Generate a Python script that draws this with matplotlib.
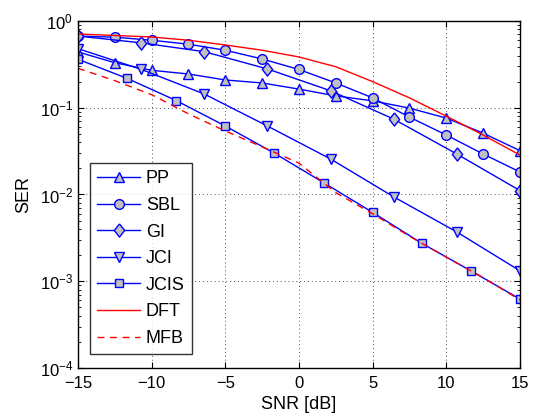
import matplotlib
matplotlib.use("Agg")
import matplotlib.pyplot as plt
import numpy as np
from matplotlib.ticker import LogLocator, NullFormatter, FixedLocator

plt.rcParams['font.family'] = ['Liberation Sans', 'DejaVu Sans']
plt.rcParams['mathtext.fontset'] = 'custom'
plt.rcParams['mathtext.rm'] = 'Liberation Sans'
plt.rcParams['mathtext.it'] = 'Liberation Sans:italic'

# Data
snr_pp = [-15, -12.5, -10, -7.5, -5, -2.5, 0, 2.5, 5, 7.5, 10, 12.5, 15]
ser_pp = [0.44, 0.33, 0.27, 0.245, 0.209, 0.193, 0.164, 0.137, 0.12, 0.099, 0.076, 0.051, 0.032]

snr_sbl = [-15, -12.5, -10, -7.5, -5, -2.5, 0, 2.5, 5, 7.5, 10, 12.5, 15]
ser_sbl = [0.67, 0.65, 0.60, 0.54, 0.46, 0.365, 0.276, 0.193, 0.13, 0.078, 0.0485, 0.0293, 0.0182]

snr_gi = [-15, -10.714, -6.429, -2.143, 2.143, 6.429, 10.714, 15]
ser_gi = [0.67, 0.56, 0.443, 0.28, 0.157, 0.074, 0.0293, 0.0111]

snr_jci = [-15, -10.714, -6.429, -2.143, 2.143, 6.429, 10.714, 15]
ser_jci = [0.48, 0.277, 0.144, 0.0616, 0.0257, 0.0094, 0.0037, 0.00132]

snr_jcis = [-15, -11.667, -8.333, -5, -1.667, 1.667, 5, 8.333, 11.667, 15]
ser_jcis = [0.362, 0.218, 0.121, 0.0616, 0.0299, 0.0137, 0.00623, 0.00274, 0.00132, 0.000624]

snr_dft = [-15, -12.5, -10, -7.5, -5, -2.5, 0, 2.5, 5, 7.5, 10, 12.5, 15]
ser_dft = [0.708, 0.68, 0.654, 0.60, 0.529, 0.46, 0.385, 0.297, 0.20, 0.13, 0.080, 0.0485, 0.0285]

snr_mfb = [-15, -12.5, -10, -7.5, -5, -2.5, 0, 2.5, 5, 7.5, 10, 12.5, 15]
ser_mfb = [0.285, 0.205, 0.1416, 0.085, 0.054, 0.0354, 0.023, 0.0105, 0.0060, 0.0033, 0.0019, 0.0011, 0.00061]

xticks = [-15, -10, -5, 0, 5, 10, 15]

fig = plt.figure(figsize=(5.36, 4.18), dpi=100)
ax = fig.add_axes([0.1455, 0.1196, 0.8245, 0.8302])

diamond = [(0, 1), (0.78, 0), (0, -1), (-0.78, 0), (0, 1)]

mk = dict(color='#0000ff', lw=1.0, markerfacecolor='#c0c0c0',
          markeredgecolor='#0000ff', markeredgewidth=1.0)
ax.plot(snr_pp, ser_pp, marker='^', ms=7.5, label='PP', **mk)
ax.plot(snr_sbl, ser_sbl, marker='o', ms=7, label='SBL', **mk)
ax.plot(snr_gi, ser_gi, marker=diamond, ms=9.5, label='GI', **mk)
ax.plot(snr_jci, ser_jci, marker='v', ms=7.5, label='JCI', **mk)
ax.plot(snr_jcis, ser_jcis, marker='s', ms=6, label='JCIS', **mk)
ax.plot(snr_dft, ser_dft, color='#ff0000', lw=1.0, label='DFT')
ax.plot(snr_mfb, ser_mfb, color='#ff0000', lw=1.0, ls=(0, (5, 4)), label='MFB')

ax.set_yscale('log')
ax.set_xlim(-15, 15)
ax.set_ylim(1e-4, 1)
ax.xaxis.set_major_locator(FixedLocator(xticks))
ax.set_xticklabels(['\u2212' + str(abs(t)) if t < 0 else str(t) for t in xticks])
ax.yaxis.set_major_locator(LogLocator(base=10, numticks=10))
ax.yaxis.set_minor_locator(LogLocator(base=10, subs=np.arange(2, 10), numticks=20))
ax.yaxis.set_minor_formatter(NullFormatter())
ax.grid(True, which='major', ls=(0, (1, 3)), color='#505050', lw=0.7)
ax.tick_params(which='both', direction='in', top=True, right=True, labelsize=12)
ax.tick_params(which='major', length=4)
ax.tick_params(which='minor', length=2)
ax.tick_params(axis='x', pad=6)
for s in ax.spines.values():
    s.set_linewidth(1.0)

ax.set_xlabel('SNR [dB]', fontsize=13, labelpad=3)
ax.set_ylabel('SER', fontsize=13, labelpad=5)

leg = ax.legend(loc='lower left', bbox_to_anchor=(0.027, 0.040), borderaxespad=0,
                fontsize=13, frameon=True, fancybox=False, edgecolor='black',
                handlelength=2.4, handletextpad=0.3, labelspacing=0.53,
                borderpad=0.4, numpoints=1)
leg.get_frame().set_linewidth(1.0)

fig.savefig('out.png', dpi=100)
